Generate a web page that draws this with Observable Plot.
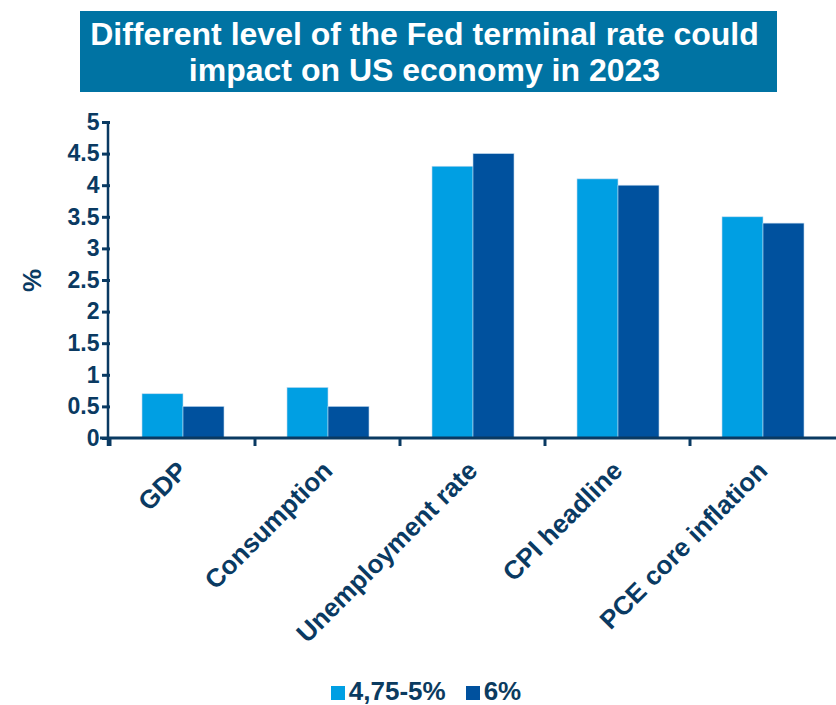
<!DOCTYPE html>
<html>
<head>
<meta charset="utf-8">
<script src="https://cdn.jsdelivr.net/npm/d3@7"></script>
<script src="https://cdn.jsdelivr.net/npm/@observablehq/plot@0.6"></script>
<style>
  body { margin: 0; background: #fff; font-family: "Liberation Sans", Arial, sans-serif; }
  #wrap { position: relative; width: 836px; height: 705px; }
  #title { position: absolute; left: 80px; top: 11px; width: 697px; height: 81px; background: #0073A3; color: #fff;
           font-weight: bold; font-size: 32px; line-height: 36px; text-align: center; display: flex; align-items: center; justify-content: center; padding-right: 8px; box-sizing: border-box; }
  #chart { position: absolute; left: 0; top: 100px; }
  #legend { position: absolute; left: 0; width: 852px; top: 676px; text-align: center; color: #0B3B60; font-weight: bold; font-size: 26px; line-height: 30px; }
  #legend span.item { margin: 0 10px; }
  #legend span.sw { display: inline-block; width: 14px; height: 14px; margin-right: 4px; vertical-align: 0px; }
</style>
</head>
<body>
<div id="wrap">
  <div id="title">Different level of the Fed terminal rate could<br>impact on US economy in 2023</div>
  <div id="chart"></div>
  <div id="legend"></div>
</div>
<script>
const categories = ["GDP", "Consumption", "Unemployment rate", "CPI headline", "PCE core inflation"];
const seriesNames = ["4,75-5%", "6%"];
const valuesLow = [0.7, 0.8, 4.3, 4.1, 3.5];
const valuesHigh = [0.5, 0.5, 4.5, 4.0, 3.4];
const yTicks = [0, 0.5, 1, 1.5, 2, 2.5, 3, 3.5, 4, 4.5, 5];
const seriesColors = ["#009FE3", "#00519E"];
const ink = "#0A3A62";

const rows = [];
categories.forEach((c, i) => {
  rows.push({cat: c, series: seriesNames[0], value: valuesLow[i]});
  rows.push({cat: c, series: seriesNames[1], value: valuesHigh[i]});
});

const plot = Plot.plot({
  width: 836,
  height: 560,
  marginLeft: 108,
  marginRight: 0,
  marginTop: 22,
  marginBottom: 222,
  style: {fontFamily: "'Liberation Sans', Arial, sans-serif", fontSize: "23px", fontWeight: "bold", color: ink, background: "white"},
  fx: {domain: categories, padding: 0, label: null},
  x: {domain: seriesNames, paddingInner: 0, paddingOuter: 0.73, axis: null},
  y: {domain: [0, 5]},
  color: {domain: seriesNames, range: seriesColors},
  marks: [
    Plot.barY(rows, {fx: "cat", x: "series", y: "value", fill: "series", stroke: "#BFD9EE", strokeWidth: 0.6}),
    Plot.axisY({ticks: yTicks, tickFormat: d => String(d), tickSize: 8, tickPadding: 3, strokeWidth: 3,
                label: null}),
    Plot.axisY({ticks: [], tickSize: 0, label: "%", labelAnchor: "center", labelOffset: 88, labelArrow: "none", fontSize: 26}),
    Plot.axisFx({anchor: "bottom", tickSize: 0, tickRotate: -45, tickPadding: 28, label: null, fontSize: 26})
  ]
});

// axis lines and category-boundary ticks, placed through the plot's own scales
const svg = d3.select(plot.tagName.toLowerCase() === "svg" ? plot : plot.querySelector("svg"));
const fx = plot.scale("fx"), y = plot.scale("y");
const y0 = y.apply(0), yTop = y.apply(5);
const xLeft = fx.range[0], xRight = fx.range[1];
const g = svg.append("g").attr("stroke", ink);
g.append("line").attr("x1", xLeft).attr("x2", xLeft).attr("y1", yTop).attr("y2", y0 + 8).attr("stroke-width", 2.5);
g.append("line").attr("x1", xLeft - 8).attr("x2", xRight).attr("y1", y0).attr("y2", y0).attr("stroke-width", 3);
categories.forEach(c => {
  const x = fx.apply(c);
  g.append("line").attr("x1", x).attr("x2", x).attr("y1", y0).attr("y2", y0 + 8).attr("stroke-width", 3);
});
document.getElementById("chart").appendChild(plot);

const legend = document.getElementById("legend");
seriesNames.forEach((s, i) => {
  const item = document.createElement("span");
  item.className = "item";
  const sw = document.createElement("span");
  sw.className = "sw";
  sw.style.background = seriesColors[i];
  item.appendChild(sw);
  item.appendChild(document.createTextNode(s));
  legend.appendChild(item);
});
</script>
</body>
</html>
